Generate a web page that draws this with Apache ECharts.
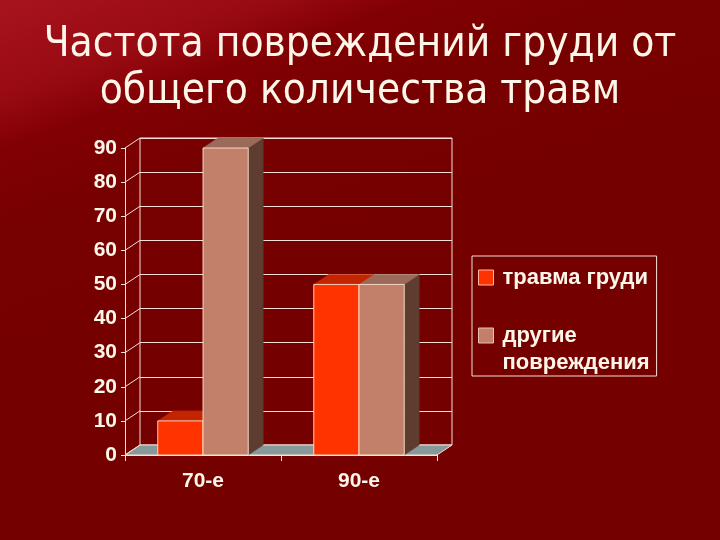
<!DOCTYPE html>
<html>
<head>
<meta charset="utf-8">
<style>
html,body{margin:0;padding:0;width:720px;height:540px;overflow:hidden;}
#chart{width:720px;height:540px;}
</style>
<script src="https://cdn.jsdelivr.net/npm/echarts@6/dist/echarts.min.js"></script>
</head>
<body>
<div id="chart"></div>
<script>
// ---- data ----
var titleText = 'Частота повреждений груди от\nобщего количества травм';
var categories = ['70-е', '90-е'];
var seriesNames = ['травма груди', 'другие\nповреждения'];
var chestInjury = [10, 50];
var otherInjury = [90, 50];
var yTicks = [0, 10, 20, 30, 40, 50, 60, 70, 80, 90];

// ---- style ----
var DX = 15, DY = -10;           // 3D depth offset (px)
var BAR_FRAC = 0.29;             // bar width as fraction of category band
var palette = [
  {front: '#FF3300', top: '#C42400', side: '#8A1E00'},
  {front: '#C2806A', top: '#9C6A5A', side: '#5E3C30'}
];
var textColor = '#FFF6EA';
var lineColor = '#F4E0D8';
// legend icons: 19x42 box, square placed centred (item 1) or at top (item 2)
var iconMid = 'path://M0,0M19,42M0,13.5h15v15h-15z';
var iconTop = 'path://M0,0M19,42M0,0h15v15h-15z';

var chart = echarts.init(document.getElementById('chart'));

function barRender(sIdx) {
  return function (params, api) {
    var cat = api.value(0), val = api.value(1);
    var c = api.coord([cat, val]);
    var base = api.coord([cat, 0]);
    var band = api.size([1, 0])[0];
    var bw = band * BAR_FRAC;
    var x0 = sIdx === 0 ? c[0] - bw : c[0];
    var x1 = x0 + bw;
    var yt = c[1], yb = base[1];
    var col = palette[sIdx];
    return {
      type: 'group',
      children: [
        {type: 'polygon', shape: {points: [[x1, yb], [x1 + DX, yb + DY], [x1 + DX, yt + DY], [x1, yt]]},
         style: {fill: col.side, stroke: col.side, lineWidth: 0.5}},
        {type: 'polygon', shape: {points: [[x0, yt], [x1, yt], [x1 + DX, yt + DY], [x0 + DX, yt + DY]]},
         style: {fill: col.top, stroke: col.top, lineWidth: 0.5}},
        {type: 'rect', shape: {x: x0, y: yt, width: bw, height: yb - yt},
         style: {fill: col.front, stroke: 'rgba(255,235,215,0.85)', lineWidth: 1}}
      ]
    };
  };
}

var option = {
  backgroundColor: {
    type: 'linear', x: 0, y: 0, x2: 0.2, y2: 0.74,
    colorStops: [
      {offset: 0, color: '#A8141E'},
      {offset: 0.22, color: '#980A12'},
      {offset: 0.33, color: '#820004'},
      {offset: 0.5, color: '#780000'},
      {offset: 1, color: '#740000'}
    ]
  },
  animation: false,
  title: {
    text: titleText,
    left: 'center',
    top: 17,
    textStyle: {
      color: textColor,
      fontFamily: 'DejaVu Sans Condensed',
      fontWeight: 'normal',
      fontSize: 42,
      lineHeight: 47
    }
  },
  legend: {
    orient: 'vertical',
    left: 472,
    top: 256,
    padding: [0, 7, 0, 6],
    itemGap: 23,
    itemWidth: 19,
    itemHeight: 42,
    borderColor: lineColor,
    borderWidth: 1,
    data: [
      {name: seriesNames[0], icon: iconMid,
       itemStyle: {color: palette[0].front, borderColor: '#FFB8A0', borderWidth: 1}},
      {name: seriesNames[1], icon: iconTop,
       itemStyle: {color: palette[1].front, borderColor: '#E8C0B0', borderWidth: 1}}
    ],
    textStyle: {
      color: textColor,
      fontFamily: 'Liberation Sans',
      fontWeight: 'bold',
      fontSize: 22,
      lineHeight: 27
    }
  },
  grid: [
    {left: 125, right: 283, top: 148, bottom: 85},
    {left: 140, right: 268, top: 138, bottom: 95, show: true, borderColor: lineColor, borderWidth: 1}
  ],
  xAxis: [
    {
      type: 'category', gridIndex: 0, data: categories,
      axisLine: {show: true, lineStyle: {color: lineColor, width: 1}},
      axisTick: {show: true, length: 6, lineStyle: {color: lineColor}},
      axisLabel: {color: textColor, fontFamily: 'Liberation Sans', fontWeight: 'bold', fontSize: 21, margin: 16},
      splitLine: {show: false}
    },
    {
      type: 'category', gridIndex: 1, data: categories,
      axisLine: {show: false}, axisTick: {show: false}, axisLabel: {show: false}, splitLine: {show: false}
    }
  ],
  yAxis: [
    {
      type: 'value', gridIndex: 0, min: 0, max: 90, interval: 10,
      axisLine: {show: true, lineStyle: {color: lineColor, width: 1}},
      axisTick: {show: true, length: 4, lineStyle: {color: lineColor}},
      axisLabel: {color: textColor, fontFamily: 'Liberation Sans', fontWeight: 'bold', fontSize: 21, margin: 8},
      splitLine: {show: false}
    },
    {
      type: 'value', gridIndex: 1, min: 0, max: 90, interval: 10,
      axisLine: {show: false}, axisTick: {show: false}, axisLabel: {show: false},
      splitLine: {show: true, lineStyle: {color: lineColor, width: 1}}
    }
  ],
  series: [
    {
      // floor + diagonal tick connectors
      type: 'custom',
      name: 'frame',
      xAxisIndex: 0, yAxisIndex: 0,
      silent: true,
      z: 1,
      data: yTicks.map(function (t) { return [0, t]; }),
      renderItem: function (params, api) {
        var cs = params.coordSys;
        var y = api.coord([0, api.value(1)])[1];
        var x = cs.x;
        var children = [
          {type: 'line', shape: {x1: x, y1: y, x2: x + DX, y2: y + DY},
           style: {stroke: lineColor, lineWidth: 1}}
        ];
        if (api.value(1) === 0) {
          var xr = cs.x + cs.width;
          children.unshift({type: 'polygon',
            shape: {points: [[x, y], [xr, y], [xr + DX, y + DY], [x + DX, y + DY]]},
            style: {fill: '#86999A', stroke: lineColor, lineWidth: 1}});
        }
        return {type: 'group', children: children};
      }
    },
    {
      type: 'custom', name: seriesNames[0], xAxisIndex: 0, yAxisIndex: 0, z: 3,
      itemStyle: {color: palette[0].front},
      data: chestInjury.map(function (v, i) { return [i, v]; }),
      renderItem: barRender(0)
    },
    {
      type: 'custom', name: seriesNames[1], xAxisIndex: 0, yAxisIndex: 0, z: 4,
      itemStyle: {color: palette[1].front},
      data: otherInjury.map(function (v, i) { return [i, v]; }),
      renderItem: barRender(1)
    }
  ]
};
chart.setOption(option);
</script>
</body>
</html>
